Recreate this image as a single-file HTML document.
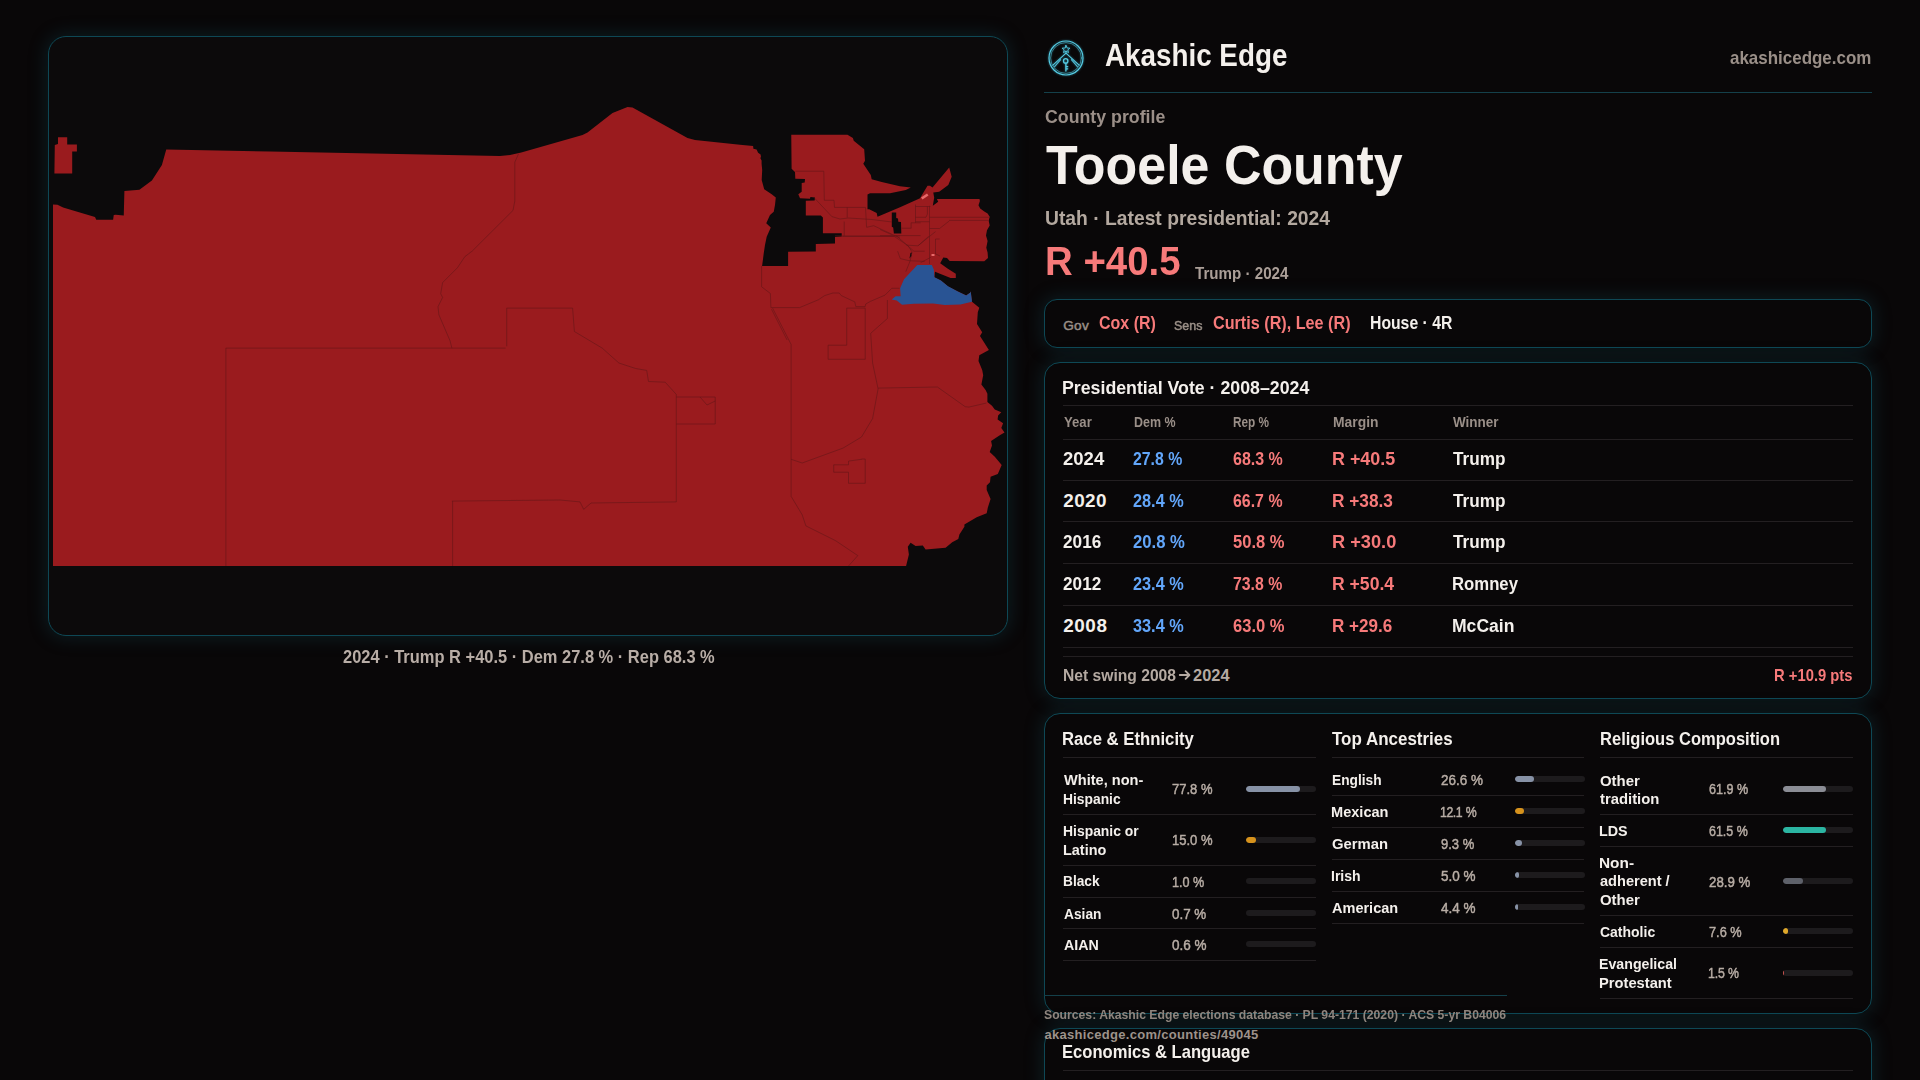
<!DOCTYPE html>
<html><head><meta charset="utf-8"><style>
*{box-sizing:border-box;margin:0;padding:0}
html,body{width:1920px;height:1080px;overflow:hidden;background:#090708;font-family:"Liberation Sans",sans-serif}
.abs{position:absolute}
.t{position:absolute;white-space:nowrap;line-height:1;font-family:"Liberation Sans",sans-serif;transform-origin:0 0}
.card{position:absolute;border:1px solid #0e4855;border-radius:16px;background:#090708;box-shadow:0 0 18px 2px rgba(22,84,98,.27)}
.hr{position:absolute;height:1px}
.bar{position:absolute;height:6px;border-radius:3px;background:#1d1b1d;width:70px;overflow:hidden}
.bar i{position:absolute;left:0;top:0;height:6px;border-radius:3px}
</style></head><body>
<div class="card" style="left:48px;top:36px;width:960px;height:600px;border-radius:18px;background:#0c0a0b"></div>
<svg class="abs" style="left:48px;top:36px" width="960" height="600" viewBox="48 36 960 600"><polygon points="53,204.4 57.5,204.75 63.1,207.5 95,216.9 96.25,219.75 113.1,219.75 113.75,215 115.6,214.75 123.75,215.6 124.4,191 139.4,189.75 151.9,180.6 161.9,165 166.25,149.4 270,151.5 500,155.9 510,155 521.25,152.5 582.5,135 587.5,132.5 612.5,113.1 627.5,106.9 632.5,107.5 687.5,138.1 695,140 740,144.7 753.1,145.9 753.4,148.75 756.6,149.4 758.1,152.8 760.6,154.4 761,156.9 760.3,158.1 761.6,160.6 761.6,163.75 762.2,170 761.7,180 764.2,189.2 771.7,194.2 775.8,197.5 775,205 773.75,211.7 770,215 766.25,223.3 770.8,227.5 766.7,236.7 765,245 763.75,253.3 762.1,265.9 788.1,265.9 788.1,251.8 815.8,251.4 815.8,244.1 835,243.6 835,236.9 841.7,236.5 841.7,233.2 822.9,233.2 822.9,217.5 820.8,215.4 805.8,215.4 805.8,200.8 814.6,200.4 815,197.5 810.4,197.1 810,198.75 800,198.3 798.3,194.2 801.7,191.7 801.7,182.9 804.7,182.5 805,179 795.3,178.75 795,171.9 791.6,168.75 791.25,134.7 847.5,134.7 852.9,137.9 853.75,140.8 864.2,149.2 865,160.8 863.3,163.75 870.8,175 871.7,179.2 881.7,182.1 900,186.25 910.8,187.5 905.8,190 890,193.3 870,193.3 867.5,194.6 867.5,209.2 869.2,209.2 876.7,212.9 877.5,216.7 900,207.3 920,198.3 927.5,185.8 930,185.8 932.5,187.5 949.2,167.5 951.7,176.7 948.3,185 939.2,191.7 933.3,192.5 934.2,197.7 932.8,205.8 938.2,201.8 936.9,199.1 979.5,199.1 979.9,201.1 978.5,205.2 980.2,208.5 984.3,211.6 987.6,213.6 989.7,216.7 988.7,220.7 989.7,225.5 987,230.2 986,235.6 987.6,241 986.3,247.8 987.6,252.5 988,258 984.3,261.3 949.7,261 947,258 943.3,257.6 940.2,263.3 947.5,268.5 955.8,273.75 955.8,277.9 950.6,277.9 935,271.7 934.3,277.3 940.9,280.6 948,286.4 957.8,291.6 966.2,295.5 970.1,292.8 970.7,291.5 972,301.8 979.3,307.8 977.8,312.2 977,324.1 982.2,332.2 980,335.9 988.9,350 979.3,355.2 978.5,361.1 982.2,370 983.2,375.2 981.4,384.4 985.6,390 987.4,393.7 987.4,402 992,405.7 994.8,409.4 1001.3,412.2 998.1,415.5 997.6,419.6 1003.1,423.3 1001.3,428 1004.5,432.6 999.4,435.4 991.1,440.9 992,445.6 989.7,452 994.8,456.7 1001.7,465 997.8,473.9 990.6,476.7 990,482.2 986.7,485.6 986.7,490 990.6,498.9 987.8,507.8 986.7,513.3 976.7,517.2 964.4,524.4 964.4,526.7 959.4,534.4 958.3,538.9 952.2,542.2 945.6,547.8 925.6,549.4 922.8,545.6 915.6,546.1 910.6,542.8 907.8,546.7 908.9,554.4 906.1,566 890,566 53,566" fill="#9a1b1e" />
<polygon points="58,137.2 67.2,137.2 67.2,144.4 76.9,144.4 76.9,151.5 72.2,151.5 72.2,173.5 54.4,173.5 54.8,145 58,144" fill="#9a1b1e" />
<polygon points="891.8,212.6 896.2,212.6 896.2,218 898,218.4 898.3,221.7 901,222.1 901.3,233.6 893.9,233.6 893.2,227.5 891.8,226.8" fill="#0c0a0b" />
<polygon points="909.5,258.6 910.5,253 912,252.5 911.5,256" fill="#0c0a0b" />
<polygon points="917.3,264.9 931.8,264.9 933.8,269.4 934.4,277.2 940.9,280.5 948,286.3 957.8,291.5 966.2,295.4 970.1,292.8 970.7,291.5 972,301.8 960.4,304.4 944.8,305.1 933.1,303.5 913.7,303.8 902,304.8 896.8,300.5 891.7,299.6 895.6,296.3 900.7,296.3 900.1,288.2 904,279.2" fill="#295494" />
<polygon points="921,197.5 927,193.5 928.5,195.5 922.5,199.5" fill="#e86a6a" />
<polygon points="931.5,254 934.5,254 934.5,256 931.5,256" fill="#e86a6a" />
<g fill="none" stroke="#641517" stroke-width="0.6" stroke-linejoin="round">
<polyline points="518.5,153.9 514.8,162.2 514.8,201.1 513,210.4 472.2,251.1 464.8,256.7 457.4,267.8 442.6,282.6 440.7,293.7 442.6,297.4 438,306.7 438.9,314.8 450,340.7 451.9,348.1"/>
<polyline points="225.9,348.1 505.6,348.1"/>
<polyline points="506.7,346.3 506.7,308.1 572.6,308.1 574.4,331.5 602.2,348.1 618.9,363 635.6,368.5 646.7,370.4 648.5,381.5 665.2,382.2 676.3,394.4 676.3,501.9 591.1,503 583.7,509.3 580,501.9 560,500 451.9,501.1"/>
<polyline points="225.9,348.1 225.9,566"/>
<polyline points="452.6,501.1 452.6,566"/>
<polyline points="676.3,397 715.2,397 715.2,424 676.3,424"/>
<polyline points="700,397 707,405 715.2,401"/>
<polyline points="772.6,308.1 791.1,344.4 791.1,496.3 802.2,514.8 805.9,525.9 835.6,540.7 857.8,555.6 848.5,566"/>
<polyline points="791.1,459.3 802.2,463 843,448.1 861.5,437 872.6,418.5 878.1,388.9 872.6,363 870.7,333.3 887.4,318.5 887.4,300"/>
<polyline points="878.1,388.1 937.4,387 965.2,406.7 968.9,407.1 986.5,403"/>
<polyline points="828.1,345.2 846.7,345.2 846.7,308.1 865.2,308.1 865.2,359.3 828.1,359.3 828.1,345.2"/>
<polyline points="833.7,464.8 848.5,464.8 848.5,461.1 861.5,459.3 861.5,459 865.2,459 865.2,483.3 848.5,483.3 848.5,472.2 833.7,472.2 833.7,464.8"/>
<polyline points="761.6,265.9 761.6,286.8 770.4,293.5 770.9,307.6 799.6,307.6 818.3,299.8 824.6,295.6 832.9,293 839.2,293 841.3,295.6 854.8,301.9 855.8,306.6 865.2,306.6 865.7,304 870.4,301.4 885,295.1 891.8,288.3 899.6,288.3"/>
<polyline points="771.5,309.2 787.1,340"/>
<polyline points="842.3,236.5 894.4,236.5 907.9,245.6 912.1,251.9 910,261.2 905.8,271.7"/>
<polyline points="795.3,171.2 823.8,171.2 824.3,200.3 834,200.3 834.5,207.4 865.5,207.4 866.6,227.3 873.7,225.7 900,238"/>
<polyline points="814.6,198.2 831.9,216.6 840,219 848,218 858,218.6 872,219.5 884,221 892,222"/>
<polyline points="847.2,207.4 847.2,217.6"/>
<polyline points="844.2,221.6 844.2,235.9"/>
<polyline points="835,235.9 900,235.9"/>
<polyline points="929.5,205.8 929.5,264"/>
<polyline points="929.5,217.3 989.7,217.3"/>
<polyline points="949,220.4 988,220.4"/>
<polyline points="949.1,221.1 939.6,228.5 929.5,228.5"/>
<polyline points="915.5,204.5 915.5,222.8"/>
<polyline points="915.5,206.5 930.4,206.5"/>
<polyline points="927.4,206.5 927.4,214 926,217.3 915.5,217.3"/>
<polyline points="915.5,221.7 929.5,221.7"/>
<polyline points="911.1,222.8 920.6,222.8"/>
<polyline points="911.1,222.8 911.1,228.2 901.7,228.2"/>
<polyline points="880,235.6 920.6,235.6"/>
<polyline points="880,229.5 892.2,234.9"/>
<polyline points="896.2,235.6 913.9,251.2 924.7,251.2"/>
<polyline points="935.5,231.6 917.9,245.8 906.4,245.1"/>
<polyline points="935.5,239 935.5,253.9 940,256"/>
<polyline points="935.5,239 939.6,239"/>
<polyline points="930.8,257.3 920.6,262.7"/>
<polyline points="897.6,251.2 900.3,258.6 909.1,260.7 924.7,261.4"/>
<polyline points="918.3,245.6 928.75,236.25"/>
</g></svg>
<div class="abs" style="left:1044px;top:92px;width:828px;height:1px;background:#14404a"></div>
<div class="card" style="left:1044px;top:299px;width:828px;height:49px;border-radius:13px"></div>
<div class="card" style="left:1044px;top:362px;width:828px;height:337px"></div>
<div class="hr" style="left:1063px;top:405.0px;width:790px;background:#231f21"></div>
<div class="hr" style="left:1063px;top:439.0px;width:790px;background:#231f21"></div>
<div class="hr" style="left:1063px;top:480.0px;width:790px;background:#231f21"></div>
<div class="hr" style="left:1063px;top:521.0px;width:790px;background:#231f21"></div>
<div class="hr" style="left:1063px;top:563.0px;width:790px;background:#231f21"></div>
<div class="hr" style="left:1063px;top:605.0px;width:790px;background:#231f21"></div>
<div class="hr" style="left:1063px;top:646.5px;width:790px;background:#231f21"></div>
<div class="hr" style="left:1063px;top:656.0px;width:790px;background:#231f21"></div>
<div class="card" style="left:1044px;top:713px;width:828px;height:301px"></div>
<div class="hr" style="left:1063px;top:757.0px;width:253px;background:#231f21"></div>
<div class="hr" style="left:1063px;top:814.0px;width:253px;background:#231f21"></div>
<div class="hr" style="left:1063px;top:865.0px;width:253px;background:#231f21"></div>
<div class="hr" style="left:1063px;top:897.0px;width:253px;background:#231f21"></div>
<div class="hr" style="left:1063px;top:928.0px;width:253px;background:#231f21"></div>
<div class="hr" style="left:1063px;top:960.0px;width:253px;background:#231f21"></div>
<div class="hr" style="left:1332px;top:757.0px;width:252px;background:#231f21"></div>
<div class="hr" style="left:1332px;top:795.0px;width:252px;background:#231f21"></div>
<div class="hr" style="left:1332px;top:827.0px;width:252px;background:#231f21"></div>
<div class="hr" style="left:1332px;top:859.0px;width:252px;background:#231f21"></div>
<div class="hr" style="left:1332px;top:891.0px;width:252px;background:#231f21"></div>
<div class="hr" style="left:1332px;top:923.0px;width:252px;background:#231f21"></div>
<div class="hr" style="left:1600px;top:757.0px;width:253px;background:#231f21"></div>
<div class="hr" style="left:1600px;top:814.0px;width:253px;background:#231f21"></div>
<div class="hr" style="left:1600px;top:846.0px;width:253px;background:#231f21"></div>
<div class="hr" style="left:1600px;top:915.0px;width:253px;background:#231f21"></div>
<div class="hr" style="left:1600px;top:947.0px;width:253px;background:#231f21"></div>
<div class="hr" style="left:1600px;top:998.0px;width:253px;background:#231f21"></div>
<div class="bar" style="left:1245.7px;top:786.1px"><i style="width:54.3px;background:#8792a6"></i></div>
<div class="bar" style="left:1245.7px;top:837.2px"><i style="width:10.5px;background:#d6921c"></i></div>
<div class="bar" style="left:1245.7px;top:878.1px"></div>
<div class="bar" style="left:1245.7px;top:909.6px"></div>
<div class="bar" style="left:1245.7px;top:940.7px"></div>
<div class="bar" style="left:1514.8px;top:775.9px"><i style="width:19.0px;background:#8792a6"></i></div>
<div class="bar" style="left:1514.8px;top:808.3px"><i style="width:8.9px;background:#d6921c"></i></div>
<div class="bar" style="left:1514.8px;top:840.2px"><i style="width:7.0px;background:#8792a6"></i></div>
<div class="bar" style="left:1514.8px;top:872.2px"><i style="width:4.3px;background:#8792a6"></i></div>
<div class="bar" style="left:1514.8px;top:904.1px"><i style="width:2.8px;background:#8792a6"></i></div>
<div class="bar" style="left:1783.1px;top:786.1px"><i style="width:42.8px;background:#8b8d95"></i></div>
<div class="bar" style="left:1783.1px;top:827.2px"><i style="width:42.8px;background:#2bb5a2"></i></div>
<div class="bar" style="left:1783.1px;top:878.1px"><i style="width:19.6px;background:#5e616a"></i></div>
<div class="bar" style="left:1783.1px;top:928.1px"><i style="width:4.6px;background:#e0a82a"></i></div>
<div class="bar" style="left:1783.1px;top:970.2px"><i style="width:1.0px;background:#c9524f"></i></div>
<svg class="abs" style="left:1178px;top:668px" width="14" height="14" viewBox="0 0 14 14"><path d="M1.8 7 H11.2 M7.6 3.2 L11.4 7 L7.6 10.8" fill="none" stroke="#b5aaa2" stroke-width="1.9" stroke-linecap="round" stroke-linejoin="round"/></svg>
<div class="card" style="left:1044px;top:1028px;width:828px;height:120px"></div>
<div class="hr" style="left:1063px;top:1070.0px;width:790px;background:#231f21"></div>
<div class="abs" style="left:1044px;top:995px;width:463px;height:1px;background:#14404a"></div>
<svg class="abs" style="left:1046.2px;top:37.8px;filter:drop-shadow(0 0 1.2px rgba(70,200,230,.55))" width="40" height="40" viewBox="0 0 40 40">
<g fill="none" stroke="#55cbe3" stroke-linecap="round" stroke-linejoin="round">
<circle cx="20" cy="20" r="17" stroke-width="1.2"/>
<circle cx="20" cy="20" r="15.4" stroke-width="0.7" opacity="0.75"/>
<path d="M6.9 27.2 L20 15.2 L33.1 27.2" stroke-width="1.1"/>
<path d="M8.6 28.6 L14.6 21.6 M31.4 28.6 L25.4 21.6" stroke-width="1.1" opacity="0.9"/>
<path d="M20 13.2 L20 15.2" stroke-width="1"/>
<path d="M20 7.4 L21.1 10 L23.9 10.2 L21.8 11.9 L22.5 14.6 L20 13.1 L17.5 14.6 L18.2 11.9 L16.1 10.2 L18.9 10 Z" stroke-width="0.9"/>
<circle cx="19.7" cy="22.9" r="2.2" stroke-width="1.3"/>
<path d="M19.9 25.1 L19.9 33 M19.9 28.6 L21.7 28.6 M19.9 30.8 L21.7 30.8" stroke-width="1.3"/>
</g></svg>
<div class="t" style="left:1104.90px;top:40.91px;font-size:30.7px;letter-spacing:0.000px;word-spacing:-0.000px;color:#f4f0ec;font-weight:700;transform:scaleX(0.9061)">Akashic Edge</div>
<div class="t" style="left:1729.60px;top:49.83px;font-size:17.8px;letter-spacing:0.000px;word-spacing:-0.000px;color:#9a8f88;font-weight:700;transform:scaleX(0.9536)">akashicedge.com</div>
<div class="t" style="left:1044.70px;top:108.30px;font-size:18.9px;letter-spacing:0.000px;word-spacing:-0.000px;color:#9b8f88;font-weight:700;transform:scaleX(0.9394)">County profile</div>
<div class="t" style="left:1045.50px;top:136.72px;font-size:56.2px;letter-spacing:0.000px;word-spacing:-0.000px;color:#f4f0ec;font-weight:700;transform:scaleX(0.9241)">Tooele County</div>
<div class="t" style="left:1044.66px;top:208.26px;font-size:20.6px;letter-spacing:0.000px;word-spacing:-0.000px;color:#b3a89f;font-weight:700;transform:scaleX(0.9363)">Utah · Latest presidential: 2024</div>
<div class="t" style="left:1045.13px;top:241.49px;font-size:41.0px;letter-spacing:0.000px;word-spacing:-0.000px;color:#f77a7a;font-weight:700;transform:scaleX(0.9370)">R +40.5</div>
<div class="t" style="left:1194.60px;top:265.84px;font-size:16.6px;letter-spacing:0.000px;word-spacing:-0.000px;color:#ab9f98;font-weight:700;transform:scaleX(0.9124)">Trump · 2024</div>
<div class="t" style="left:342.50px;top:647.89px;font-size:18.2px;letter-spacing:0.000px;word-spacing:-0.000px;color:#b8ada6;font-weight:700;transform:scaleX(0.9047)">2024 · Trump R +40.5 · Dem 27.8 % · Rep 68.3 %</div>
<div class="t" style="left:1063.30px;top:318.88px;font-size:13.6px;letter-spacing:0.233px;word-spacing:-0.233px;color:#9a8f87;font-weight:400;-webkit-text-stroke:0.5px #9a8f87">Gov</div>
<div class="t" style="left:1098.75px;top:313.89px;font-size:18.2px;letter-spacing:0.000px;word-spacing:-0.000px;color:#f77a7a;font-weight:700;transform:scaleX(0.8792)">Cox (R)</div>
<div class="t" style="left:1174.30px;top:318.88px;font-size:13.6px;letter-spacing:0.000px;word-spacing:-0.000px;color:#9a8f87;font-weight:400;-webkit-text-stroke:0.5px #9a8f87;transform:scaleX(0.9170)">Sens</div>
<div class="t" style="left:1212.80px;top:313.89px;font-size:18.2px;letter-spacing:0.000px;word-spacing:-0.000px;color:#f77a7a;font-weight:700;transform:scaleX(0.8898)">Curtis (R), Lee (R)</div>
<div class="t" style="left:1369.73px;top:313.89px;font-size:18.2px;letter-spacing:0.000px;word-spacing:-0.000px;color:#f4f0ec;font-weight:700;transform:scaleX(0.8662)">House · 4R</div>
<div class="t" style="left:1062.26px;top:378.50px;font-size:18.9px;letter-spacing:0.000px;word-spacing:-0.000px;color:#f4f0ec;font-weight:700;transform:scaleX(0.9394)">Presidential Vote · 2008–2024</div>
<div class="t" style="left:1063.90px;top:414.51px;font-size:14.4px;letter-spacing:0.000px;word-spacing:-0.000px;color:#9a8f88;font-weight:700;transform:scaleX(0.9120)">Year</div>
<div class="t" style="left:1133.60px;top:414.51px;font-size:14.4px;letter-spacing:0.000px;word-spacing:-0.000px;color:#9a8f88;font-weight:700;transform:scaleX(0.8653)">Dem %</div>
<div class="t" style="left:1233.30px;top:414.51px;font-size:14.4px;letter-spacing:0.000px;word-spacing:-0.000px;color:#9a8f88;font-weight:700;transform:scaleX(0.8193)">Rep %</div>
<div class="t" style="left:1333.20px;top:414.51px;font-size:14.4px;letter-spacing:0.000px;word-spacing:-0.000px;color:#9a8f88;font-weight:700;transform:scaleX(0.9638)">Margin</div>
<div class="t" style="left:1453.20px;top:414.51px;font-size:14.4px;letter-spacing:0.000px;word-spacing:-0.000px;color:#9a8f88;font-weight:700;transform:scaleX(0.9380)">Winner</div>
<div class="t" style="left:1063.30px;top:449.90px;font-size:18.9px;letter-spacing:0.000px;word-spacing:-0.000px;color:#f4f0ec;font-weight:700;transform:scaleX(0.9808)">2024</div>
<div class="t" style="left:1133.10px;top:449.90px;font-size:18.9px;letter-spacing:0.000px;word-spacing:-0.000px;color:#62a6fa;font-weight:700;transform:scaleX(0.8388)">27.8 %</div>
<div class="t" style="left:1233.30px;top:449.90px;font-size:18.9px;letter-spacing:0.000px;word-spacing:-0.000px;color:#f77a7a;font-weight:700;transform:scaleX(0.8472)">68.3 %</div>
<div class="t" style="left:1332.25px;top:449.90px;font-size:18.9px;letter-spacing:0.000px;word-spacing:-0.000px;color:#f77a7a;font-weight:700;transform:scaleX(0.9481)">R +40.5</div>
<div class="t" style="left:1453.20px;top:449.90px;font-size:18.9px;letter-spacing:0.000px;word-spacing:-0.000px;color:#f4f0ec;font-weight:700;transform:scaleX(0.9093)">Trump</div>
<div class="t" style="left:1063.30px;top:491.70px;font-size:18.9px;letter-spacing:0.361px;word-spacing:-0.361px;color:#f4f0ec;font-weight:700">2020</div>
<div class="t" style="left:1133.10px;top:491.70px;font-size:18.9px;letter-spacing:0.000px;word-spacing:-0.000px;color:#62a6fa;font-weight:700;transform:scaleX(0.8625)">28.4 %</div>
<div class="t" style="left:1233.30px;top:491.70px;font-size:18.9px;letter-spacing:0.000px;word-spacing:-0.000px;color:#f77a7a;font-weight:700;transform:scaleX(0.8422)">66.7 %</div>
<div class="t" style="left:1332.29px;top:491.70px;font-size:18.9px;letter-spacing:0.000px;word-spacing:-0.000px;color:#f77a7a;font-weight:700;transform:scaleX(0.9143)">R +38.3</div>
<div class="t" style="left:1453.20px;top:491.70px;font-size:18.9px;letter-spacing:0.000px;word-spacing:-0.000px;color:#f4f0ec;font-weight:700;transform:scaleX(0.9093)">Trump</div>
<div class="t" style="left:1063.30px;top:532.70px;font-size:18.9px;letter-spacing:0.000px;word-spacing:-0.000px;color:#f4f0ec;font-weight:700;transform:scaleX(0.9104)">2016</div>
<div class="t" style="left:1133.10px;top:532.70px;font-size:18.9px;letter-spacing:0.000px;word-spacing:-0.000px;color:#62a6fa;font-weight:700;transform:scaleX(0.8828)">20.8 %</div>
<div class="t" style="left:1233.30px;top:532.70px;font-size:18.9px;letter-spacing:0.000px;word-spacing:-0.000px;color:#f77a7a;font-weight:700;transform:scaleX(0.8760)">50.8 %</div>
<div class="t" style="left:1332.24px;top:532.70px;font-size:18.9px;letter-spacing:0.000px;word-spacing:-0.000px;color:#f77a7a;font-weight:700;transform:scaleX(0.9634)">R +30.0</div>
<div class="t" style="left:1453.20px;top:532.70px;font-size:18.9px;letter-spacing:0.000px;word-spacing:-0.000px;color:#f4f0ec;font-weight:700;transform:scaleX(0.9093)">Trump</div>
<div class="t" style="left:1063.30px;top:574.90px;font-size:18.9px;letter-spacing:0.000px;word-spacing:-0.000px;color:#f4f0ec;font-weight:700;transform:scaleX(0.9104)">2012</div>
<div class="t" style="left:1133.10px;top:574.90px;font-size:18.9px;letter-spacing:0.000px;word-spacing:-0.000px;color:#62a6fa;font-weight:700;transform:scaleX(0.8625)">23.4 %</div>
<div class="t" style="left:1233.30px;top:574.90px;font-size:18.9px;letter-spacing:0.000px;word-spacing:-0.000px;color:#f77a7a;font-weight:700;transform:scaleX(0.8388)">73.8 %</div>
<div class="t" style="left:1332.27px;top:574.90px;font-size:18.9px;letter-spacing:0.000px;word-spacing:-0.000px;color:#f77a7a;font-weight:700;transform:scaleX(0.9308)">R +50.4</div>
<div class="t" style="left:1452.32px;top:574.90px;font-size:18.9px;letter-spacing:0.000px;word-spacing:-0.000px;color:#f4f0ec;font-weight:700;transform:scaleX(0.8849)">Romney</div>
<div class="t" style="left:1063.30px;top:616.70px;font-size:18.9px;letter-spacing:0.527px;word-spacing:-0.527px;color:#f4f0ec;font-weight:700">2008</div>
<div class="t" style="left:1133.10px;top:616.70px;font-size:18.9px;letter-spacing:0.000px;word-spacing:-0.000px;color:#62a6fa;font-weight:700;transform:scaleX(0.8625)">33.4 %</div>
<div class="t" style="left:1233.30px;top:616.70px;font-size:18.9px;letter-spacing:0.000px;word-spacing:-0.000px;color:#f77a7a;font-weight:700;transform:scaleX(0.8760)">63.0 %</div>
<div class="t" style="left:1332.30px;top:616.70px;font-size:18.9px;letter-spacing:0.000px;word-spacing:-0.000px;color:#f77a7a;font-weight:700;transform:scaleX(0.9036)">R +29.6</div>
<div class="t" style="left:1452.27px;top:616.70px;font-size:18.9px;letter-spacing:0.000px;word-spacing:-0.000px;color:#f4f0ec;font-weight:700;transform:scaleX(0.9293)">McCain</div>
<div class="t" style="left:1062.95px;top:666.61px;font-size:16.4px;letter-spacing:0.000px;word-spacing:-0.000px;color:#b5aaa2;font-weight:700;transform:scaleX(0.9539)">Net swing 2008</div>
<div class="t" style="left:1193.00px;top:666.61px;font-size:16.4px;letter-spacing:0.051px;word-spacing:-0.051px;color:#b5aaa2;font-weight:700">2024</div>
<div class="t" style="left:1773.60px;top:666.61px;font-size:16.4px;letter-spacing:0.000px;word-spacing:-0.000px;color:#f77a7a;font-weight:700;transform:scaleX(0.9023)">R +10.9 pts</div>
<div class="t" style="left:1062.41px;top:729.78px;font-size:18.8px;letter-spacing:0.000px;word-spacing:-0.000px;color:#f4f0ec;font-weight:700;transform:scaleX(0.8900)">Race &amp; Ethnicity</div>
<div class="t" style="left:1332.40px;top:729.78px;font-size:18.8px;letter-spacing:0.000px;word-spacing:-0.000px;color:#f4f0ec;font-weight:700;transform:scaleX(0.9033)">Top Ancestries</div>
<div class="t" style="left:1599.52px;top:729.78px;font-size:18.8px;letter-spacing:0.000px;word-spacing:-0.000px;color:#f4f0ec;font-weight:700;transform:scaleX(0.8802)">Religious Composition</div>
<div class="t" style="left:1063.90px;top:771.88px;font-size:15.5px;letter-spacing:0.000px;word-spacing:-0.000px;color:#f4f0ec;font-weight:700;transform:scaleX(0.9406)">White, non-</div>
<div class="t" style="left:1063.01px;top:790.88px;font-size:15.5px;letter-spacing:0.000px;word-spacing:-0.000px;color:#f4f0ec;font-weight:700;transform:scaleX(0.8924)">Hispanic</div>
<div class="t" style="left:1172.40px;top:781.26px;font-size:15.4px;letter-spacing:0.000px;word-spacing:-0.000px;color:#b8ada5;font-weight:400;-webkit-text-stroke:0.5px #b8ada5;transform:scaleX(0.8439)">77.8 %</div>
<div class="t" style="left:1063.00px;top:822.78px;font-size:15.5px;letter-spacing:0.000px;word-spacing:-0.000px;color:#f4f0ec;font-weight:700;transform:scaleX(0.8971)">Hispanic or</div>
<div class="t" style="left:1062.97px;top:841.88px;font-size:15.5px;letter-spacing:0.000px;word-spacing:-0.000px;color:#f4f0ec;font-weight:700;transform:scaleX(0.9328)">Latino</div>
<div class="t" style="left:1171.55px;top:831.86px;font-size:15.4px;letter-spacing:0.000px;word-spacing:-0.000px;color:#b8ada5;font-weight:400;-webkit-text-stroke:0.5px #b8ada5;transform:scaleX(0.8469)">15.0 %</div>
<div class="t" style="left:1063.01px;top:873.48px;font-size:15.5px;letter-spacing:0.000px;word-spacing:-0.000px;color:#f4f0ec;font-weight:700;transform:scaleX(0.8861)">Black</div>
<div class="t" style="left:1171.58px;top:873.56px;font-size:15.4px;letter-spacing:0.000px;word-spacing:-0.000px;color:#b8ada5;font-weight:400;-webkit-text-stroke:0.5px #b8ada5;transform:scaleX(0.8197)">1.0 %</div>
<div class="t" style="left:1063.90px;top:906.28px;font-size:15.5px;letter-spacing:0.000px;word-spacing:-0.000px;color:#f4f0ec;font-weight:700;transform:scaleX(0.8864)">Asian</div>
<div class="t" style="left:1172.40px;top:906.36px;font-size:15.4px;letter-spacing:0.000px;word-spacing:-0.000px;color:#b8ada5;font-weight:400;-webkit-text-stroke:0.5px #b8ada5;transform:scaleX(0.8697)">0.7 %</div>
<div class="t" style="left:1063.90px;top:937.18px;font-size:15.5px;letter-spacing:0.000px;word-spacing:-0.000px;color:#f4f0ec;font-weight:700;transform:scaleX(0.9179)">AIAN</div>
<div class="t" style="left:1172.40px;top:937.26px;font-size:15.4px;letter-spacing:0.000px;word-spacing:-0.000px;color:#b8ada5;font-weight:400;-webkit-text-stroke:0.5px #b8ada5;transform:scaleX(0.8772)">0.6 %</div>
<div class="t" style="left:1331.52px;top:771.98px;font-size:15.5px;letter-spacing:0.000px;word-spacing:-0.000px;color:#f4f0ec;font-weight:700;transform:scaleX(0.8843)">English</div>
<div class="t" style="left:1441.10px;top:772.06px;font-size:15.4px;letter-spacing:0.000px;word-spacing:-0.000px;color:#b8ada5;font-weight:400;-webkit-text-stroke:0.5px #b8ada5;transform:scaleX(0.8750)">26.6 %</div>
<div class="t" style="left:1331.46px;top:803.98px;font-size:15.5px;letter-spacing:0.000px;word-spacing:-0.000px;color:#f4f0ec;font-weight:700;transform:scaleX(0.9397)">Mexican</div>
<div class="t" style="left:1440.30px;top:804.06px;font-size:15.4px;letter-spacing:-0.526px;word-spacing:0.526px;color:#b8ada5;font-weight:400;-webkit-text-stroke:0.5px #b8ada5;transform:scaleX(0.8000)">12.1 %</div>
<div class="t" style="left:1332.40px;top:835.88px;font-size:15.5px;letter-spacing:0.000px;word-spacing:-0.000px;color:#f4f0ec;font-weight:700;transform:scaleX(0.9568)">German</div>
<div class="t" style="left:1441.10px;top:835.96px;font-size:15.4px;letter-spacing:0.000px;word-spacing:-0.000px;color:#b8ada5;font-weight:400;-webkit-text-stroke:0.5px #b8ada5;transform:scaleX(0.8444)">9.3 %</div>
<div class="t" style="left:1331.49px;top:867.88px;font-size:15.5px;letter-spacing:0.000px;word-spacing:-0.000px;color:#f4f0ec;font-weight:700;transform:scaleX(0.9052)">Irish</div>
<div class="t" style="left:1441.10px;top:867.96px;font-size:15.4px;letter-spacing:0.000px;word-spacing:-0.000px;color:#b8ada5;font-weight:400;-webkit-text-stroke:0.5px #b8ada5;transform:scaleX(0.8772)">5.0 %</div>
<div class="t" style="left:1332.40px;top:900.18px;font-size:15.5px;letter-spacing:0.000px;word-spacing:-0.000px;color:#f4f0ec;font-weight:700;transform:scaleX(0.9362)">American</div>
<div class="t" style="left:1441.10px;top:900.26px;font-size:15.4px;letter-spacing:0.000px;word-spacing:-0.000px;color:#b8ada5;font-weight:400;-webkit-text-stroke:0.5px #b8ada5;transform:scaleX(0.8772)">4.4 %</div>
<div class="t" style="left:1600.40px;top:772.58px;font-size:15.5px;letter-spacing:0.000px;word-spacing:-0.000px;color:#f4f0ec;font-weight:700;transform:scaleX(0.9635)">Other</div>
<div class="t" style="left:1600.40px;top:790.68px;font-size:15.5px;letter-spacing:0.000px;word-spacing:-0.000px;color:#f4f0ec;font-weight:700;transform:scaleX(0.9573)">tradition</div>
<div class="t" style="left:1709.10px;top:780.96px;font-size:15.4px;letter-spacing:0.000px;word-spacing:-0.000px;color:#b8ada5;font-weight:400;-webkit-text-stroke:0.5px #b8ada5;transform:scaleX(0.8169)">61.9 %</div>
<div class="t" style="left:1599.48px;top:822.58px;font-size:15.5px;letter-spacing:0.000px;word-spacing:-0.000px;color:#f4f0ec;font-weight:700;transform:scaleX(0.9238)">LDS</div>
<div class="t" style="left:1709.10px;top:822.66px;font-size:15.4px;letter-spacing:0.000px;word-spacing:-0.000px;color:#b8ada5;font-weight:400;-webkit-text-stroke:0.5px #b8ada5;transform:scaleX(0.8086)">61.5 %</div>
<div class="t" style="left:1599.41px;top:854.98px;font-size:15.5px;letter-spacing:0.000px;word-spacing:-0.000px;color:#f4f0ec;font-weight:700;transform:scaleX(0.9933)">Non-</div>
<div class="t" style="left:1600.40px;top:873.48px;font-size:15.5px;letter-spacing:0.000px;word-spacing:-0.000px;color:#f4f0ec;font-weight:700;transform:scaleX(0.9403)">adherent /</div>
<div class="t" style="left:1600.40px;top:892.28px;font-size:15.5px;letter-spacing:0.000px;word-spacing:-0.000px;color:#f4f0ec;font-weight:700;transform:scaleX(0.9635)">Other</div>
<div class="t" style="left:1709.10px;top:873.56px;font-size:15.4px;letter-spacing:0.000px;word-spacing:-0.000px;color:#b8ada5;font-weight:400;-webkit-text-stroke:0.5px #b8ada5;transform:scaleX(0.8625)">28.9 %</div>
<div class="t" style="left:1600.40px;top:923.88px;font-size:15.5px;letter-spacing:0.000px;word-spacing:-0.000px;color:#f4f0ec;font-weight:700;transform:scaleX(0.9021)">Catholic</div>
<div class="t" style="left:1709.10px;top:923.96px;font-size:15.4px;letter-spacing:0.000px;word-spacing:-0.000px;color:#b8ada5;font-weight:400;-webkit-text-stroke:0.5px #b8ada5;transform:scaleX(0.8293)">7.6 %</div>
<div class="t" style="left:1599.49px;top:956.28px;font-size:15.5px;letter-spacing:0.000px;word-spacing:-0.000px;color:#f4f0ec;font-weight:700;transform:scaleX(0.9144)">Evangelical</div>
<div class="t" style="left:1599.45px;top:974.78px;font-size:15.5px;letter-spacing:0.000px;word-spacing:-0.000px;color:#f4f0ec;font-weight:700;transform:scaleX(0.9485)">Protestant</div>
<div class="t" style="left:1708.30px;top:964.66px;font-size:15.4px;letter-spacing:-0.182px;word-spacing:0.182px;color:#b8ada5;font-weight:400;-webkit-text-stroke:0.5px #b8ada5;transform:scaleX(0.8000)">1.5 %</div>
<div class="t" style="left:1044.40px;top:1007.89px;font-size:13.0px;letter-spacing:0.000px;word-spacing:-0.000px;color:#8f857e;font-weight:700;transform:scaleX(0.9386)">Sources: Akashic Edge elections database · PL 94-171 (2020) · ACS 5-yr B04006</div>
<div class="t" style="left:1044.40px;top:1028.19px;font-size:13.0px;letter-spacing:0.301px;word-spacing:-0.301px;color:#9d928b;font-weight:700">akashicedge.com/counties/49045</div>
<div class="t" style="left:1062.41px;top:1042.95px;font-size:18.6px;letter-spacing:0.000px;word-spacing:-0.000px;color:#f4f0ec;font-weight:700;transform:scaleX(0.8915)">Economics &amp; Language</div>
</body></html>
